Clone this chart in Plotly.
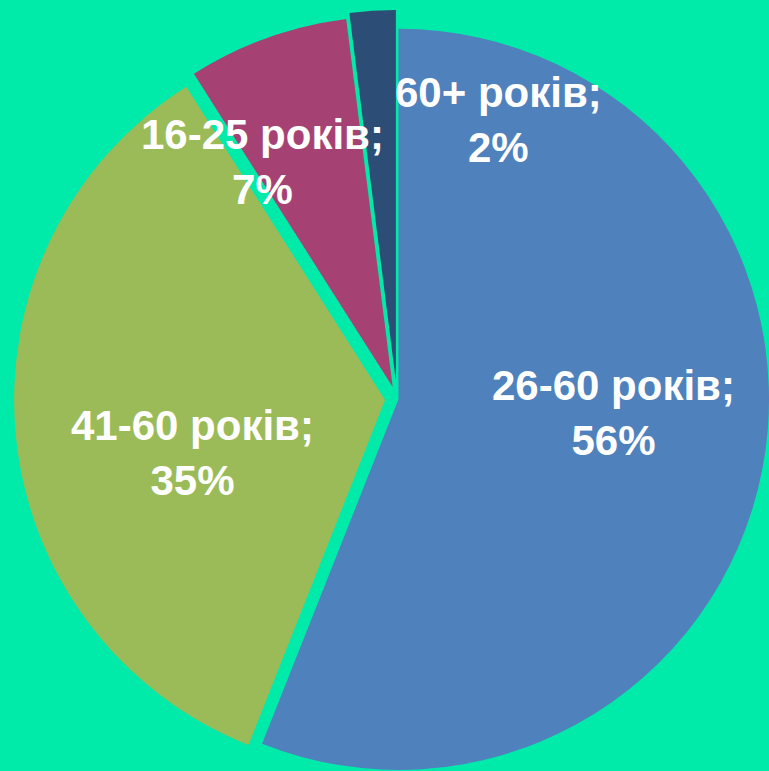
import math
import plotly.graph_objects as go

# ---- data ----
labels = ["26-60 років", "41-60 років", "16-25 років", "60+ років"]
values = [56, 35, 7, 2]

# ---- style ----
colors = ["#4F81BD", "#9BBB59", "#A54273", "#2C4D75"]
bg = "#00EAAA"
W, H = 769, 771
center = (397.0, 399.0)          # pie centre in px
radius = 371.0                    # pie radius in px
explode = [2.0, 12.0, 12.7, 18.0] # per-slice explosion in px
label_pos = [(613, 413), (192, 453), (262, 162), (498, 120)]  # px, label centres

fig = go.Figure()
total = float(sum(values))
cum = 0.0
for i, v in enumerate(values):
    mid = (cum + v / 2.0) / total * 2 * math.pi  # clockwise from 12 o'clock
    cum += v
    dx = math.sin(mid) * explode[i]
    dy = -math.cos(mid) * explode[i]
    cx, cy = center[0] + dx, center[1] + dy
    x0, x1 = (cx - radius) / W, (cx + radius) / W
    yc = H - cy
    y0, y1 = (yc - radius) / H, (yc + radius) / H
    slice_colors = [colors[j] if j == i else "rgba(0,0,0,0)" for j in range(len(values))]
    fig.add_trace(go.Pie(
        labels=labels, values=values, sort=False, direction="clockwise", rotation=0,
        marker=dict(colors=slice_colors, line=dict(width=0)),
        textinfo="none", hoverinfo="skip", showlegend=False,
        domain=dict(x=[max(0, x0), min(1, x1)], y=[max(0, y0), min(1, y1)]),
    ))

annotations = []
for i, (lab, v) in enumerate(zip(labels, values)):
    px, py = label_pos[i]
    annotations.append(dict(
        text=f"{lab};<br>{v}%", x=px / W, y=1 - py / H, xref="paper", yref="paper",
        xanchor="center", yanchor="middle", showarrow=False, align="center",
        font=dict(family="Liberation Sans, Arial", size=42, color="white", weight="bold"),
    ))

fig.update_layout(
    width=W, height=H, margin=dict(l=0, r=0, t=0, b=0),
    paper_bgcolor=bg, plot_bgcolor=bg, annotations=annotations, showlegend=False,
)
fig.write_html(
    "out.html",
    config={"displayModeBar": False, "staticPlot": True},
    post_script="document.body.style.margin='0';document.body.style.overflow='hidden';"
                "document.body.style.background='" + bg + "';",
)
